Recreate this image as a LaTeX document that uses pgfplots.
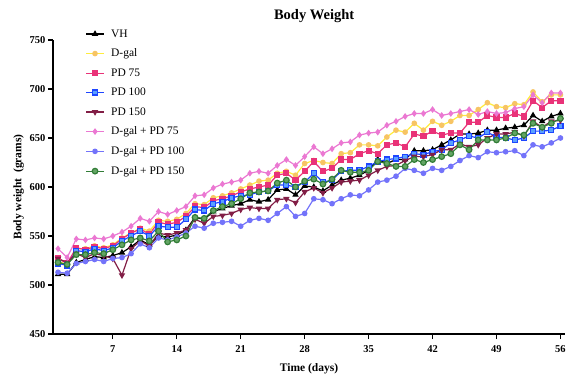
\documentclass[border=0pt]{standalone}
\usepackage{pgfplots}
\pgfplotsset{compat=1.18}
\usepackage{pgfplotstable}
\usepackage{fontspec}
\setmainfont{Liberation Serif}

\definecolor{cvh}{RGB}{0,0,0}
\definecolor{cdgal}{RGB}{255,236,60}
\definecolor{cdgalm}{RGB}{247,196,100}
\definecolor{cpda}{RGB}{233,50,120}
\definecolor{cpdb}{RGB}{30,70,255}
\definecolor{cpdbf}{RGB}{90,160,255}
\definecolor{cpdc}{RGB}{130,30,70}
\definecolor{cdpa}{RGB}{235,120,210}
\definecolor{cdpb}{RGB}{115,115,250}
\definecolor{cdpc}{RGB}{50,125,55}
\definecolor{cdpcf}{RGB}{100,165,100}

\pgfplotstableread{
day VH Dgal PDa PDb PDc DPa DPb DPc
1 511 524 527 522 527 537 513 523
2 511 521 522 520 523 528 512 521
3 523 537 538 535 532 547 522 531
4 526 537 536 534 528 546 524 531
5 529 540 539 537 532 548 526 533
6 528 538 537 535 530 547 524 532
7 530 541 540 538 527 550 527 536
8 533 548 547 545 510 554 528 541
9 539 553 553 550 537 560 532 546
10 546 558 557 555 545 568 542 548
11 541 555 552 550 540 565 538 545
12 550 566 564 560 553 575 548 555
13 549 565 562 559 551 572 546 544
14 551 567 564 559 553 576 549 546
15 556 573 570 567 556 580 553 550
16 569 583 580 577 567 591 560 569
17 567 582 579 576 563 592 558 568
18 575 589 586 583 570 599 563 576
19 578 591 588 585 571 603 564 580
20 581 594 591 589 573 605 565 583
21 583 598 595 591 577 607 560 588
22 587 602 598 592 579 614 566 594
23 585 606 600 595 578 616 568 595
24 587 607 602 596 578 614 566 596
25 597 614 612 602 587 622 573 604
26 598 616 614 602 588 628 580 607
27 592 612 607 600 584 622 570 600
28 601 624 616 605 595 631 573 606
29 600 627 626 614 599 641 588 608
30 596 625 616 605 594 634 587 603
31 602 624 619 607 599 639 583 608
32 607 634 628 616 605 645 588 617
33 609 635 628 617 606 646 592 615
34 612 643 634 617 607 653 591 615
35 617 643 637 621 612 655 597 617
36 628 642 634 626 617 656 605 626
37 624 651 643 628 621 663 607 624
38 628 658 645 629 622 667 611 621
39 628 656 641 631 627 672 619 621
40 637 665 654 634 631 675 617 628
41 637 658 652 633 631 675 614 625
42 638 667 657 636 633 679 619 628
43 643 663 653 638 638 673 617 631
44 648 667 655 645 638 675 621 634
45 654 673 655 648 644 677 627 643
46 654 673 666 652 641 679 632 638
47 655 679 666 650 643 674 630 648
48 658 686 673 656 650 677 636 648
49 658 682 671 651 654 675 635 648
50 660 681 671 650 654 676 636 650
51 661 685 675 648 656 680 637 655
52 663 684 672 650 652 682 632 653
53 673 697 688 657 667 694 643 665
54 667 687 681 657 661 686 641 661
55 672 694 688 658 667 696 645 665
56 675 694 688 662 668 696 650 670
}\bw

\begin{document}
\begin{tikzpicture}
\useasboundingbox (0,0) rectangle (568pt,378pt);
\begin{axis}[
  at={(53pt,44pt)}, anchor=south west,
  scale only axis, width=512pt, height=294pt,
  xmin=0.45, xmax=56.5, ymin=450, ymax=750,
  xtick={7,14,...,56}, ytick={450,500,...,750},
  axis lines=left, axis line style={-, line width=1.2pt},
  every tick/.style={line width=1.2pt, black},
  tick align=outside, major tick length=5pt,
  /pgf/number format/assume math mode=true,
  ticklabel style={font=\bfseries\fontsize{10.5}{12}\selectfont},
  xticklabel style={yshift=-3pt},
  yticklabel style={xshift=1pt},
  xlabel={Time (days)}, ylabel={Body weight\ \ (grams)},
  label style={font=\bfseries\fontsize{11.5}{13}\selectfont},
  xlabel style={yshift=-4pt},
  ylabel style={yshift=-1pt},
  title={Body Weight},
  title style={font=\bfseries\fontsize{14.5}{16}\selectfont, at={(0.51,1)}, yshift=8pt},
  legend style={at={(0.058,1.05)}, anchor=north west, draw=none, fill=none,
    font=\fontsize{11.5}{13}\selectfont, row sep=6.3pt, column sep=5pt, cells={anchor=west}},
  every axis plot/.append style={line width=1.2pt},
]
\addplot[cvh, mark=triangle*, mark size=2.6pt] table[x=day,y=VH]{\bw};
\addlegendentry{VH}
\addplot[cdgal, mark=*, mark size=2.2pt, mark options={fill=cdgalm, draw=cdgalm}] table[x=day,y=Dgal]{\bw};
\addlegendentry{D-gal}
\addplot[cpda, mark=square*, mark size=2.5pt] table[x=day,y=PDa]{\bw};
\addlegendentry{PD 75}
\addplot[cpdb, mark=square*, mark size=2.5pt, mark options={fill=cpdbf, draw=cpdb}] table[x=day,y=PDb]{\bw};
\addlegendentry{PD 100}
\addplot[cpdc, mark=triangle*, mark size=2.6pt, mark options={rotate=180}] table[x=day,y=PDc]{\bw};
\addlegendentry{PD 150}
\addplot[cdpa, mark=diamond*, mark size=2.4pt] table[x=day,y=DPa]{\bw};
\addlegendentry{D-gal + PD 75}
\addplot[cdpb, mark=*, mark size=2.2pt] table[x=day,y=DPb]{\bw};
\addlegendentry{D-gal + PD 100}
\addplot[cdpc, mark=*, mark size=2.8pt, mark options={fill=cdpcf, draw=cdpc}] table[x=day,y=DPc]{\bw};
\addlegendentry{D-gal + PD 150}
\end{axis}
\end{tikzpicture}
\end{document}
